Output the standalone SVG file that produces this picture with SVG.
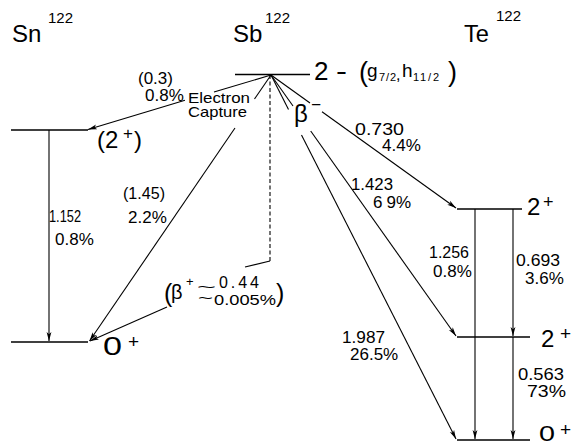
<svg xmlns="http://www.w3.org/2000/svg" width="576" height="446" viewBox="0 0 576 446">
<defs>
<marker id="ah" markerWidth="10" markerHeight="6" refX="9" refY="3" orient="auto" markerUnits="userSpaceOnUse"><path d="M0,0.6 L9,3 L0,5.4 L2.2,3 z" fill="#000"/></marker>
<style>
.lv{stroke:#000;stroke-width:1.6;fill:none}
.tr{stroke:#000;stroke-width:1.1;fill:none}
.ar{marker-end:url(#ah)}
.dash{stroke-dasharray:4 2.5}
text{font-family:"Liberation Sans",Arial,sans-serif;fill:#000}
.hd{font-size:24px}
.sup{font-size:15px}
.num{font-size:17px}
.big{font-size:24px}
.pl{font-size:19px}
.sm{font-size:11px}
</style>
</defs>
<rect width="576" height="446" fill="#fff"/>

<g id="header-sn"><text class="hd" x="12" y="42">Sn</text><text class="sup" x="48" y="23">122</text></g>
<g id="header-sb"><text class="hd" x="233" y="42">Sb</text><text class="sup" x="265" y="23">122</text></g>
<g id="header-te"><text class="hd" x="464" y="42" textLength="25" lengthAdjust="spacingAndGlyphs">Te</text><text class="sup" x="496" y="21">122</text></g>

<g id="sb-level">
<path class="lv" d="M235,74.5 H310"/>
<text style="font-size:26px" x="314" y="80">2</text>
<text style="font-size:26px" x="336" y="80" textLength="11" lengthAdjust="spacingAndGlyphs">-</text>
<text style="font-size:27px" x="359" y="81">(</text>
<text style="font-size:19px" x="367" y="77">g</text>
<text class="sm" x="379" y="81" textLength="17">7/2</text>
<text style="font-size:16px" x="396" y="80">,</text>
<text style="font-size:19px" x="402" y="77">h</text>
<text class="sm" x="413" y="81" textLength="26">11/2</text>
<text style="font-size:27px" x="448" y="81">)</text>
</g>

<g id="sn-2plus">
<path class="lv" d="M11,130 H88"/>
<text class="big" x="97" y="148">(2</text>
<text style="font-size:17px" x="123" y="139">+</text>
<text class="big" x="134" y="148">)</text>
</g>

<g id="sn-0plus">
<path class="lv" d="M11,342 H88"/>
<text style="font-size:26px" x="103" y="355" textLength="19" lengthAdjust="spacingAndGlyphs">0</text>
<text class="pl" x="128" y="348">+</text>
</g>

<g id="te-2plus-upper">
<path class="lv" d="M457,209 H522"/>
<text class="big" x="527" y="215">2</text>
<text style="font-size:18px" x="543" y="208">+</text>
</g>

<g id="te-2plus-lower">
<path class="lv" d="M457,337 H530"/>
<text class="big" x="541" y="347">2</text>
<text class="pl" x="560" y="340">+</text>
</g>

<g id="te-0plus">
<path class="lv" d="M457,440 H530"/>
<text style="font-size:22px" x="539" y="441" textLength="16" lengthAdjust="spacingAndGlyphs">0</text>
<text class="pl" x="560" y="436">+</text>
</g>

<g id="connectors">
<path class="tr" d="M271,75 L214,92"/>
<path class="tr ar" d="M185,100.3 L88,129.5"/>
<path class="tr" d="M271,75 L254.5,99"/>
<path class="tr ar" d="M235,128 L89.5,341"/>
<path class="tr dash" d="M270,75 V261"/>
<path class="tr" d="M270,261 L245,267"/>
<path class="tr ar" d="M167,307 L90,341"/>
<path class="tr ar" d="M49,130 V341"/>
<path class="tr" d="M271,75 L310,103"/>
<path class="tr ar" d="M322,111.7 L456,208"/>
<path class="tr" d="M271,75 L293,106"/>
<path class="tr ar" d="M310.7,131 L456,336"/>
<path class="tr" d="M271,75 L288.5,109.5"/>
<path class="tr ar" d="M301.5,135 L456,439"/>
<path class="tr ar" d="M475,209 V439"/>
<path class="tr ar" d="M513,209 V336"/>
<path class="tr ar" d="M513,337 V439"/>
</g>

<g id="labels">
<text class="num" x="138" y="84">(0.3)</text>
<text class="num" x="145" y="101">0.8%</text>
<text style="font-size:15px" x="188" y="103" textLength="62" lengthAdjust="spacingAndGlyphs">Electron</text>
<text style="font-size:15px" x="188" y="117" textLength="59" lengthAdjust="spacingAndGlyphs">Capture</text>
<text style="font-size:24px" x="294" y="122">β</text>
<text style="font-size:16px" x="311" y="109.5" textLength="10" lengthAdjust="spacingAndGlyphs">−</text>
<text class="num" x="49" y="222" textLength="32" lengthAdjust="spacingAndGlyphs">1.152</text>
<text class="num" x="55" y="245">0.8%</text>
<text class="num" x="123" y="199" textLength="42" lengthAdjust="spacingAndGlyphs">(1.45)</text>
<text class="num" x="128" y="223">2.2%</text>
<text class="num" x="355" y="135" textLength="49" lengthAdjust="spacingAndGlyphs">0.730</text>
<text class="num" x="382" y="151">4.4%</text>
<text class="num" x="351" y="190" textLength="42" lengthAdjust="spacingAndGlyphs">1.423</text>
<text class="num" x="373" y="208">6<tspan dx="4">9%</tspan></text>
<text class="num" x="429" y="258" textLength="40" lengthAdjust="spacingAndGlyphs">1.256</text>
<text class="num" x="433" y="277">0.8%</text>
<text class="num" x="516" y="266" textLength="44" lengthAdjust="spacingAndGlyphs">0.693</text>
<text class="num" x="525" y="284">3.6%</text>
<text class="num" x="342" y="343" textLength="43" lengthAdjust="spacingAndGlyphs">1.987</text>
<text class="num" x="350" y="360">26.5%</text>
<text style="font-size:16.5px" x="518" y="380" textLength="46" lengthAdjust="spacingAndGlyphs">0.563</text>
<text style="font-size:16.5px" x="527" y="397" textLength="39" lengthAdjust="spacingAndGlyphs">73%</text>
<text style="font-size:25px" x="164" y="302">(</text>
<text style="font-size:20px" x="171" y="299">β</text>
<text style="font-size:13px" x="186" y="286">+</text>
<text style="font-size:15px" x="197" y="292" textLength="19" lengthAdjust="spacingAndGlyphs">~</text>
<text style="font-size:16px" x="219" y="288" textLength="40">0.44</text>
<text style="font-size:15px" x="198" y="303" textLength="15" lengthAdjust="spacingAndGlyphs">~</text>
<text style="font-size:15px" x="214" y="305" textLength="62" lengthAdjust="spacingAndGlyphs">0.005%</text>
<text style="font-size:25px" x="276" y="302">)</text>
</g>
</svg>
